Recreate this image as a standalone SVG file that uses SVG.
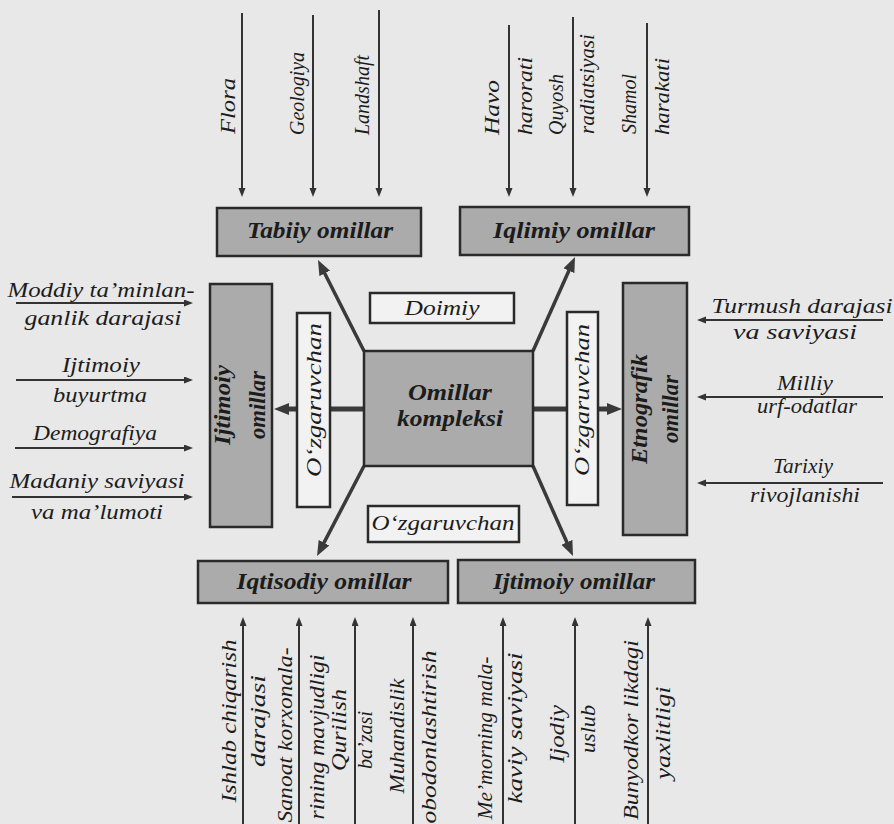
<svg xmlns="http://www.w3.org/2000/svg" width="894" height="824" viewBox="0 0 894 824">
<style>
.t{font-family:"Liberation Serif","Times New Roman",serif;font-style:italic;font-size:21px;fill:#1c1c1c}
.b{font-weight:bold;font-size:23px}
.m{text-anchor:middle}
.gbox{fill:#ababab;stroke:#2a2a2a;stroke-width:2.5}
.wbox{fill:#f2f2f2;stroke:#2a2a2a;stroke-width:2.5}
.in{stroke:#333;stroke-width:2;fill:none;marker-end:url(#sa)}
.main{stroke:#3a3a3a;stroke-width:3.5;fill:none;marker-end:url(#ba)}
.hmain{stroke:#3a3a3a;stroke-width:5;fill:none;marker-end:url(#ba)}
</style>
<defs>
<marker id="sa" markerUnits="userSpaceOnUse" markerWidth="10" markerHeight="8" refX="2" refY="3.5" orient="auto">
<path d="M0,0 L9,3.5 L0,7 z" fill="#333"/>
</marker>
<marker id="ba" markerUnits="userSpaceOnUse" markerWidth="16" markerHeight="13" refX="3" refY="6" orient="auto">
<path d="M0,0 L15,6 L0,12 z" fill="#3a3a3a"/>
</marker>
</defs>
<rect width="894" height="824" fill="#e8e8e8"/>

<g id="connectors">
<line class="in" x1="242" y1="13" x2="242" y2="190"/>
<line class="in" x1="313" y1="15" x2="313" y2="190"/>
<line class="in" x1="379" y1="10" x2="379" y2="190"/>
<line class="in" x1="509" y1="25" x2="509" y2="190"/>
<line class="in" x1="573" y1="17" x2="573" y2="190"/>
<line class="in" x1="647" y1="23" x2="647" y2="190"/>
<line class="in" x1="16" y1="303" x2="186" y2="303"/>
<line class="in" x1="16" y1="380" x2="186" y2="380"/>
<line class="in" x1="15" y1="448" x2="186" y2="448"/>
<line class="in" x1="12" y1="497" x2="186" y2="497"/>
<line class="in" x1="883" y1="320" x2="704" y2="320"/>
<line class="in" x1="883" y1="397" x2="704" y2="397"/>
<line class="in" x1="883" y1="483" x2="704" y2="483"/>
<line class="in" x1="243" y1="824" x2="243" y2="624"/>
<line class="in" x1="299" y1="824" x2="299" y2="624"/>
<line class="in" x1="355" y1="824" x2="355" y2="624"/>
<line class="in" x1="413" y1="824" x2="413" y2="624"/>
<line class="in" x1="503" y1="824" x2="503" y2="624"/>
<line class="in" x1="575" y1="824" x2="575" y2="624"/>
<line class="in" x1="648" y1="824" x2="648" y2="624"/>
<line class="main" x1="364" y1="351" x2="323.4" y2="270.7"/>
<line class="main" x1="533" y1="351" x2="570.1" y2="268"/>
<line class="main" x1="364" y1="466" x2="322.6" y2="545.4"/>
<line class="main" x1="533" y1="466" x2="568.1" y2="545"/>
<line class="hmain" x1="364" y1="409" x2="286" y2="409"/>
<line class="hmain" x1="533" y1="409" x2="610" y2="409"/>
</g>

<g id="tabiiy">
<rect class="gbox" x="217" y="208" width="204" height="48"/>
<text class="t b m" x="320" y="238" textLength="146" lengthAdjust="spacingAndGlyphs">Tabiiy omillar</text>
</g>
<g id="iqlimiy">
<rect class="gbox" x="460" y="207" width="229" height="48"/>
<text class="t b m" x="574" y="238" textLength="162" lengthAdjust="spacingAndGlyphs">Iqlimiy omillar</text>
</g>
<g id="ijtimoiy-chap">
<rect class="gbox" x="210" y="284" width="62" height="243"/>
<text class="t b m" transform="translate(230,405) rotate(-90)" textLength="80" lengthAdjust="spacingAndGlyphs">Ijtimoiy</text>
<text class="t b m" transform="translate(265,405) rotate(-90)" textLength="68" lengthAdjust="spacingAndGlyphs">omillar</text>
</g>
<g id="ozg-chap">
<rect class="wbox" x="297" y="313" width="33" height="194"/>
<text class="t m" transform="translate(321,400) rotate(-90)" textLength="154" lengthAdjust="spacingAndGlyphs">O‘zgaruvchan</text>
</g>
<g id="doimiy">
<rect class="wbox" x="370" y="293" width="144" height="30"/>
<text class="t m" x="442" y="315" textLength="75" lengthAdjust="spacingAndGlyphs">Doimiy</text>
</g>
<g id="markaz">
<rect class="gbox" x="364" y="351" width="169" height="115"/>
<text class="t b m" x="450" y="400" textLength="84" lengthAdjust="spacingAndGlyphs">Omillar</text>
<text class="t b m" x="450" y="426" textLength="106" lengthAdjust="spacingAndGlyphs">kompleksi</text>
</g>
<g id="ozg-ong">
<rect class="wbox" x="567" y="312" width="31" height="193"/>
<text class="t m" transform="translate(589,400) rotate(-90)" textLength="152" lengthAdjust="spacingAndGlyphs">O‘zgaruvchan</text>
</g>
<g id="etnografik">
<rect class="gbox" x="623" y="283" width="64" height="252"/>
<text class="t b m" transform="translate(647,409) rotate(-90)" textLength="110" lengthAdjust="spacingAndGlyphs">Etnografik</text>
<text class="t b m" transform="translate(678,409) rotate(-90)" textLength="68" lengthAdjust="spacingAndGlyphs">omillar</text>
</g>
<g id="ozg-past">
<rect class="wbox" x="368" y="506" width="151" height="36"/>
<text class="t m" x="443" y="530" textLength="143" lengthAdjust="spacingAndGlyphs">O‘zgaruvchan</text>
</g>
<g id="iqtisodiy">
<rect class="gbox" x="198" y="561" width="250" height="42"/>
<text class="t b m" x="324" y="589" textLength="175" lengthAdjust="spacingAndGlyphs">Iqtisodiy omillar</text>
</g>
<g id="ijtimoiy-past">
<rect class="gbox" x="458" y="560" width="237" height="43"/>
<text class="t b m" x="574" y="589" textLength="162" lengthAdjust="spacingAndGlyphs">Ijtimoiy omillar</text>
</g>

<g id="top-labels">
<text class="t" transform="translate(235,134) rotate(-90)" textLength="56" lengthAdjust="spacingAndGlyphs">Flora</text>
<text class="t" transform="translate(304,135) rotate(-90)" textLength="83" lengthAdjust="spacingAndGlyphs">Geologiya</text>
<text class="t" transform="translate(369,135) rotate(-90)" textLength="80" lengthAdjust="spacingAndGlyphs">Landshaft</text>
<text class="t" transform="translate(499,135) rotate(-90)" textLength="55" lengthAdjust="spacingAndGlyphs">Havo</text>
<text class="t" transform="translate(532,135) rotate(-90)" textLength="78" lengthAdjust="spacingAndGlyphs">harorati</text>
<text class="t" transform="translate(563,135) rotate(-90)" textLength="61" lengthAdjust="spacingAndGlyphs">Quyosh</text>
<text class="t" transform="translate(594,134) rotate(-90)" textLength="100" lengthAdjust="spacingAndGlyphs">radiatsiyasi</text>
<text class="t" transform="translate(636,134) rotate(-90)" textLength="60" lengthAdjust="spacingAndGlyphs">Shamol</text>
<text class="t" transform="translate(669,135) rotate(-90)" textLength="77" lengthAdjust="spacingAndGlyphs">harakati</text>
</g>

<g id="left-labels">
<text class="t m" x="101" y="297" textLength="187" lengthAdjust="spacingAndGlyphs">Moddiy ta’minlan-</text>
<text class="t m" x="103" y="325" textLength="157" lengthAdjust="spacingAndGlyphs">ganlik darajasi</text>
<text class="t m" x="101" y="372" textLength="78" lengthAdjust="spacingAndGlyphs">Ijtimoiy</text>
<text class="t m" x="100" y="402" textLength="94" lengthAdjust="spacingAndGlyphs">buyurtma</text>
<text class="t m" x="95" y="440" textLength="124" lengthAdjust="spacingAndGlyphs">Demografiya</text>
<text class="t m" x="97" y="488" textLength="175" lengthAdjust="spacingAndGlyphs">Madaniy saviyasi</text>
<text class="t m" x="97" y="519" textLength="132" lengthAdjust="spacingAndGlyphs">va ma’lumoti</text>
</g>

<g id="right-labels">
<text class="t m" x="802" y="313" textLength="181" lengthAdjust="spacingAndGlyphs">Turmush darajasi</text>
<text class="t m" x="795" y="339" textLength="124" lengthAdjust="spacingAndGlyphs">va saviyasi</text>
<text class="t m" x="805" y="390" textLength="56" lengthAdjust="spacingAndGlyphs">Milliy</text>
<text class="t m" x="807" y="413" textLength="100" lengthAdjust="spacingAndGlyphs">urf-odatlar</text>
<text class="t m" x="803" y="473" textLength="60" lengthAdjust="spacingAndGlyphs">Tarixiy</text>
<text class="t m" x="805" y="502" textLength="110" lengthAdjust="spacingAndGlyphs">rivojlanishi</text>
</g>

<g id="bottom-labels">
<text class="t m" transform="translate(236,721) rotate(-90)" textLength="163" lengthAdjust="spacingAndGlyphs">Ishlab chiqarish</text>
<text class="t m" transform="translate(265,721) rotate(-90)" textLength="92" lengthAdjust="spacingAndGlyphs">darajasi</text>
<text class="t m" transform="translate(292,735) rotate(-90)" textLength="175" lengthAdjust="spacingAndGlyphs">Sanoat korxonala-</text>
<text class="t m" transform="translate(324,737) rotate(-90)" textLength="165" lengthAdjust="spacingAndGlyphs">rining mavjudligi</text>
<text class="t m" transform="translate(346,730) rotate(-90)" textLength="82" lengthAdjust="spacingAndGlyphs">Qurilish</text>
<text class="t m" transform="translate(372,740) rotate(-90)" textLength="58" lengthAdjust="spacingAndGlyphs">ba’zasi</text>
<text class="t m" transform="translate(404,736) rotate(-90)" textLength="115" lengthAdjust="spacingAndGlyphs">Muhandislik</text>
<text class="t m" transform="translate(436,737) rotate(-90)" textLength="173" lengthAdjust="spacingAndGlyphs">obodonlashtirish</text>
<text class="t m" transform="translate(492,738) rotate(-90)" textLength="163" lengthAdjust="spacingAndGlyphs">Me’morning mala-</text>
<text class="t m" transform="translate(522,728) rotate(-90)" textLength="151" lengthAdjust="spacingAndGlyphs">kaviy saviyasi</text>
<text class="t m" transform="translate(564,734) rotate(-90)" textLength="58" lengthAdjust="spacingAndGlyphs">Ijodiy</text>
<text class="t m" transform="translate(595,729) rotate(-90)" textLength="48" lengthAdjust="spacingAndGlyphs">uslub</text>
<text class="t m" transform="translate(638,730) rotate(-90)" textLength="180" lengthAdjust="spacingAndGlyphs">Bunyodkor likdagi</text>
<text class="t m" transform="translate(670,733) rotate(-90)" textLength="93" lengthAdjust="spacingAndGlyphs">yaxlitligi</text>
</g>
</svg>
